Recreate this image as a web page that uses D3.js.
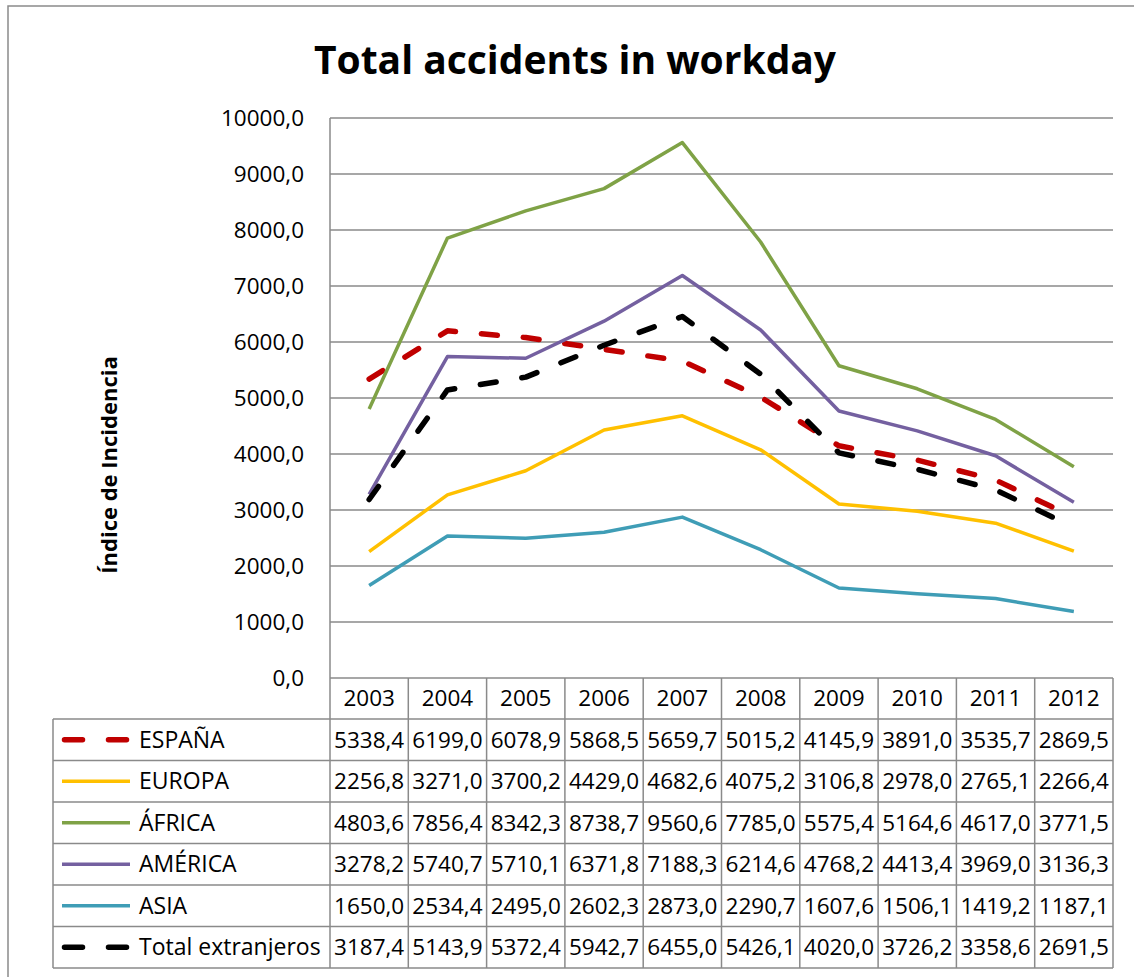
<!DOCTYPE html>
<html>
<head>
<meta charset="utf-8">
<script src="https://cdn.jsdelivr.net/npm/d3@7"></script>
<style>
  body { margin: 0; background: #fff; }
  text { font-family: "Open Sans", "Liberation Sans", sans-serif; fill: #000; }
</style>
</head>
<body>
<div id="chart"></div>
<script>
var years = ["2003", "2004", "2005", "2006", "2007", "2008", "2009", "2010", "2011", "2012"];
var seriesNames = ["ESPAÑA", "EUROPA", "ÁFRICA", "AMÉRICA", "ASIA", "Total extranjeros"];
var espana = [5338.4, 6199.0, 6078.9, 5868.5, 5659.7, 5015.2, 4145.9, 3891.0, 3535.7, 2869.5];
var europa = [2256.8, 3271.0, 3700.2, 4429.0, 4682.6, 4075.2, 3106.8, 2978.0, 2765.1, 2266.4];
var africa = [4803.6, 7856.4, 8342.3, 8738.7, 9560.6, 7785.0, 5575.4, 5164.6, 4617.0, 3771.5];
var america = [3278.2, 5740.7, 5710.1, 6371.8, 7188.3, 6214.6, 4768.2, 4413.4, 3969.0, 3136.3];
var asia = [1650.0, 2534.4, 2495.0, 2602.3, 2873.0, 2290.7, 1607.6, 1506.1, 1419.2, 1187.1];
var totalExt = [3187.4, 5143.9, 5372.4, 5942.7, 6455.0, 5426.1, 4020.0, 3726.2, 3358.6, 2691.5];
var yTicks = [0, 1000, 2000, 3000, 4000, 5000, 6000, 7000, 8000, 9000, 10000];

var colors = ["#c00000", "#ffc000", "#7fa246", "#7460a0", "#3f9db6", "#000000"];
var dashed = [true, false, false, false, false, true];
var values = [espana, europa, africa, america, asia, totalExt];

var svg_dx = 1134, svg_dy = 977;
var plot = { left: 330, right: 1113, top: 118, bottom: 678 };
var rowH = 41.5, headH = 41, legLeft = 53;
var gridColor = "#8a8a8a";

var fmt = function(v) { return d3.format(".1f")(v).replace(".", ","); };

var svg = d3.select("#chart").append("svg")
  .attr("width", svg_dx)
  .attr("height", svg_dy);

// chart border (cut off at right/bottom)
svg.append("rect")
  .attr("x", 8).attr("y", 6)
  .attr("width", 1140).attr("height", 990)
  .attr("fill", "#fff")
  .attr("stroke", gridColor)
  .attr("stroke-width", 1.5);

var xScale = d3.scaleBand().domain(years).range([plot.left, plot.right]);
var yScale = d3.scaleLinear().domain([0, 10000]).range([plot.bottom, plot.top]);

// title
svg.append("text")
  .attr("x", 575).attr("y", 74)
  .attr("text-anchor", "middle")
  .style("font-size", "39px")
  .style("font-weight", "bold")
  .text("Total accidents in workday");

// gridlines
svg.append("g").selectAll("line")
  .data(yTicks)
  .enter().append("line")
  .attr("x1", plot.left).attr("x2", plot.right)
  .attr("y1", d => yScale(d)).attr("y2", d => yScale(d))
  .attr("stroke", gridColor).attr("stroke-width", 1.5);

// y axis line down through table header
var tableBottom = plot.bottom + headH + rowH * seriesNames.length;
svg.append("line")
  .attr("x1", plot.left).attr("x2", plot.left)
  .attr("y1", plot.top).attr("y2", tableBottom)
  .attr("stroke", gridColor).attr("stroke-width", 1.5);

// y tick labels
svg.append("g").selectAll("text")
  .data(yTicks)
  .enter().append("text")
  .attr("x", 304)
  .attr("y", d => yScale(d))
  .attr("dy", "0.35em")
  .attr("text-anchor", "end")
  .style("font-size", "22.5px")
  .text(d => fmt(d));

// y axis title
svg.append("text")
  .attr("transform", "translate(117,465) rotate(-90)")
  .attr("text-anchor", "middle")
  .style("font-size", "22px")
  .style("font-weight", "bold")
  .text("Índice de Incidencia");

// lines
var line = d3.line()
  .x((d, i) => xScale(years[i]) + xScale.bandwidth() / 2)
  .y(d => yScale(d));

svg.append("g").selectAll("path")
  .data(values)
  .enter().append("path")
  .attr("d", d => line(d))
  .attr("fill", "none")
  .attr("stroke", (d, i) => colors[i])
  .attr("stroke-width", (d, i) => dashed[i] ? 5.5 : 3.5)
  .attr("stroke-dasharray", (d, i) => dashed[i] ? "16,26" : null)
  .attr("stroke-linecap", (d, i) => dashed[i] ? "round" : "butt")
  .attr("stroke-linejoin", "round");

// data table
var table = svg.append("g");
var rowY = (i) => plot.bottom + headH + rowH * i;

// horizontal rules
var hLines = d3.range(seriesNames.length + 1);
table.selectAll("line.h")
  .data(hLines)
  .enter().append("line")
  .attr("class", "h")
  .attr("x1", legLeft).attr("x2", plot.right)
  .attr("y1", d => rowY(d)).attr("y2", d => rowY(d))
  .attr("stroke", gridColor).attr("stroke-width", 1.5);

// vertical rules
var cols = years.map(y => xScale(y) + xScale.bandwidth());
table.selectAll("line.v")
  .data(cols)
  .enter().append("line")
  .attr("class", "v")
  .attr("x1", d => d).attr("x2", d => d)
  .attr("y1", plot.bottom).attr("y2", tableBottom)
  .attr("stroke", gridColor).attr("stroke-width", 1.5);

table.append("line")
  .attr("x1", legLeft).attr("x2", legLeft)
  .attr("y1", rowY(0)).attr("y2", tableBottom)
  .attr("stroke", gridColor).attr("stroke-width", 1.5);

// header years
table.selectAll("text.year")
  .data(years)
  .enter().append("text")
  .attr("class", "year")
  .attr("x", d => xScale(d) + xScale.bandwidth() / 2)
  .attr("y", plot.bottom + headH / 2)
  .attr("dy", "0.35em")
  .attr("text-anchor", "middle")
  .style("font-size", "22.5px")
  .text(d => d);

// legend keys + labels
var rows = table.selectAll("g.row")
  .data(seriesNames)
  .enter().append("g")
  .attr("class", "row")
  .attr("transform", (d, i) => "translate(0," + (rowY(i) + rowH / 2) + ")");

rows.append("line")
  .attr("x1", (d, i) => dashed[i] ? 64.5 : 62)
  .attr("x2", (d, i) => dashed[i] ? 126.5 : 130)
  .attr("y1", 0).attr("y2", 0)
  .attr("stroke", (d, i) => colors[i])
  .attr("stroke-width", (d, i) => dashed[i] ? 5.5 : 3.5)
  .attr("stroke-dasharray", (d, i) => dashed[i] ? "18,26" : null)
  .attr("stroke-linecap", (d, i) => dashed[i] ? "round" : "butt");

rows.append("text")
  .attr("x", 139)
  .attr("dy", "0.35em")
  .style("font-size", "23px")
  .text(d => d);

rows.selectAll("text.val")
  .data((d, i) => values[i])
  .enter().append("text")
  .attr("class", "val")
  .attr("x", (d, j) => xScale(years[j]) + xScale.bandwidth() / 2)
  .attr("dy", "0.35em")
  .attr("text-anchor", "middle")
  .style("font-size", "22.5px")
  .text(d => fmt(d));
</script>
</body>
</html>
